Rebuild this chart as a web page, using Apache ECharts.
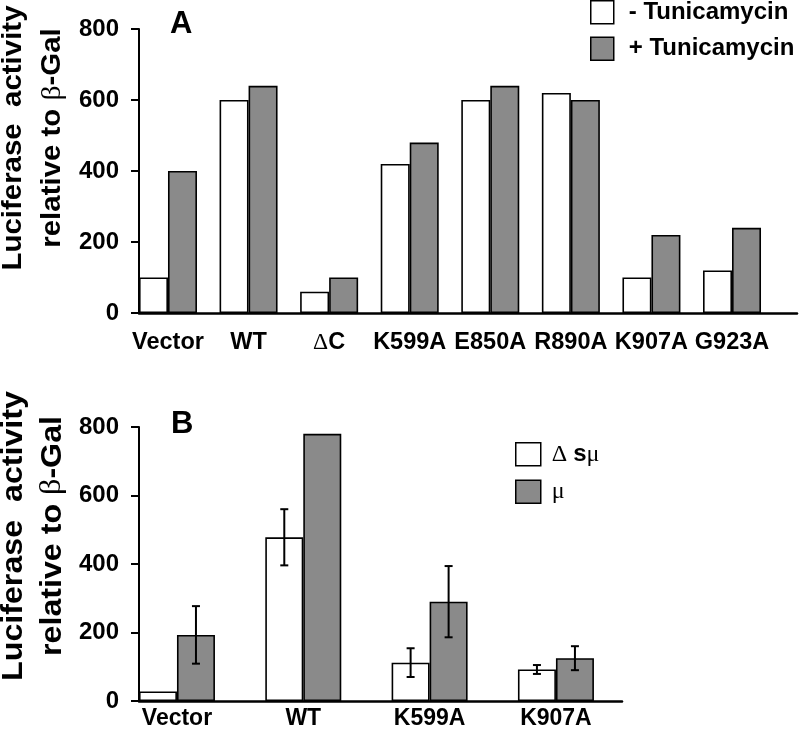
<!DOCTYPE html>
<html>
<head>
<meta charset="utf-8">
<script src="https://cdn.jsdelivr.net/npm/echarts@6/dist/echarts.min.js"></script>
<style>html,body{margin:0;padding:0;background:#fff}#c{width:800px;height:740px}</style>
</head>
<body>
<div id="c"></div>
<script>
// ---- data ----
const catsA = ['Vector', 'WT', 'ΔC', 'K599A', 'E850A', 'R890A', 'K907A', 'G923A'];
const minusTunicamycin = [100, 600, 60, 420, 600, 620, 100, 120];
const plusTunicamycin = [400, 640, 100, 480, 640, 600, 220, 240];
const catsB = ['Vector', 'WT', 'K599A', 'K907A'];
const deltaSmu = [28, 478, 112, 92];
const deltaSmuErr = [null, 82, 42, 13];
const mu = [193, 780, 290, 125];
const muErr = [84, null, 104, 35];
const yMin = 0, yMax = 800, yStep = 200;

// ---- styles ----
const SANS = "'Liberation Sans', Arial, Helvetica, sans-serif";
const SERIF = "'Liberation Serif', 'DejaVu Serif', serif";
const GREY = '#8a8a8a';
const barA = 29, barB = 38;

const chart = echarts.init(document.getElementById('c'), null, {renderer: 'canvas'});

function errData(vals, errs) {
  const out = [];
  vals.forEach((v, i) => { if (errs[i] != null) out.push([i, v, errs[i]]); });
  return out;
}
function errSeries(data, off) {
  return {
    type: 'custom', xAxisIndex: 2, yAxisIndex: 2, z: 5,
    encode: {x: 0, y: 1},
    data: data,
    renderItem: function (params, api) {
      const x = api.coord([api.value(0), 0])[0] + off;
      const v = api.value(1), e = api.value(2);
      const yH = api.coord([api.value(0), v + e])[1];
      const yL = api.coord([api.value(0), v - e])[1];
      const st = {stroke: '#000', lineWidth: 2};
      return {type: 'group', children: [
        {type: 'line', shape: {x1: x, y1: yH, x2: x, y2: yL}, style: st},
        {type: 'line', shape: {x1: x - 4, y1: yH, x2: x + 4, y2: yH}, style: st},
        {type: 'line', shape: {x1: x - 4, y1: yL, x2: x + 4, y2: yL}, style: st}
      ]};
    }
  };
}

const valAxisVisible = (gi) => ({
  type: 'value', gridIndex: gi, min: yMin, max: yMax, interval: yStep,
  axisLine: {show: true, lineStyle: {color: '#000', width: 2}},
  axisTick: {show: true, length: 8, lineStyle: {color: '#000', width: 2}},
  axisLabel: {color: '#000', fontFamily: SANS, fontWeight: 'bold', fontSize: 24, margin: 20},
  splitLine: {show: false}
});
const valAxisHidden = (gi) => ({type: 'value', gridIndex: gi, min: yMin, max: yMax, show: false, splitLine: {show: false}});
const baseAxis = (gi) => ({
  type: 'value', gridIndex: gi, min: 0, max: 1,
  axisLine: {show: true, onZero: false, lineStyle: {color: '#000', width: 2.5}},
  axisTick: {show: false}, axisLabel: {show: false}, splitLine: {show: false}
});
const catAxis = (gi, cats, margin, size) => ({
  type: 'category', gridIndex: gi, data: cats,
  axisLine: {show: false}, axisTick: {show: false},
  axisLabel: {
    color: '#000', fontFamily: SANS, fontWeight: 'bold', fontSize: size, margin: margin, interval: 0,
    formatter: (v) => v.indexOf('Δ') === 0 ? '{g|Δ}' + v.slice(1) : v,
    rich: {g: {fontFamily: SERIF, fontWeight: 'normal', fontSize: size, color: '#000'}}
  }
});

const yTitleRich = (size) => ({
  n: {font: 'bold ' + size + 'px ' + SANS, fill: '#000', lineHeight: 39},
  g: {font: 'normal ' + size + 'px ' + SERIF, fill: '#000', lineHeight: 39}
});
const yTitle = '{n|Luciferase  activity}\n{n|relative to }{g|β}{n|-Gal}';

chart.setOption({
  animation: false,
  backgroundColor: '#fff',
  title: [
    {text: 'A', left: 170, top: 9, padding: 0, textStyle: {fontFamily: SANS, fontWeight: 'bold', fontSize: 31, color: '#000'}},
    {text: 'B', left: 171, top: 409, padding: 0, textStyle: {fontFamily: SANS, fontWeight: 'bold', fontSize: 31, color: '#000'}}
  ],
  legend: [
    {
      data: ['- Tunicamycin', '+ Tunicamycin'], orient: 'vertical', left: 590, top: 0, padding: 0,
      itemWidth: 23, itemHeight: 23, itemGap: 12, icon: 'rect',
      itemStyle: {borderColor: '#000', borderWidth: 1.5},
      formatter: (n) => '{t|' + n + '}',
      textStyle: {rich: {t: {fontFamily: SANS, fontWeight: 'bold', fontSize: 24, color: '#000', padding: [0, 0, 0, 10]}}}
    },
    {
      data: ['Δ sμ', 'μ'], orient: 'vertical', left: 515, top: 442, padding: 0,
      itemWidth: 25, itemHeight: 23, itemGap: 13, icon: 'rect',
      itemStyle: {borderColor: '#000', borderWidth: 1.5},
      formatter: (n) => n === 'μ' ? '{p|}{g|μ}' : '{p|}{g|Δ }{s|s}{g|μ}',
      textStyle: {rich: {
        p: {width: 6},
        g: {fontFamily: SERIF, fontSize: 24, color: '#000'},
        s: {fontFamily: SANS, fontWeight: 'bold', fontSize: 24, color: '#000'}
      }}
    }
  ],
  grid: [
    {left: 127.7, top: 29, width: 644.6, height: 284},   // 0: bars A
    {left: 139, top: 29, width: 658, height: 284},       // 1: axes A
    {left: 113.8, top: 427, width: 505.3, height: 274},  // 2: bars B
    {left: 139, top: 427, width: 483, height: 274}       // 3: axes B
  ],
  xAxis: [catAxis(0, catsA, 18, 23.5), baseAxis(1), catAxis(2, catsB, 6, 23), baseAxis(3)],
  yAxis: [valAxisHidden(0), valAxisVisible(1), valAxisHidden(2), valAxisVisible(3)],
  graphic: [
    {type: 'text', x: 33, y: 138, rotation: Math.PI / 2, scaleX: 1.09,
     style: {text: yTitle, rich: yTitleRich(27), textAlign: 'center', textVerticalAlign: 'middle'}},
    {type: 'text', x: 33, y: 536, rotation: Math.PI / 2, scaleX: 1.11,
     style: {text: yTitle, rich: yTitleRich(29), textAlign: 'center', textVerticalAlign: 'middle'}}
  ],
  series: [
    {name: '- Tunicamycin', type: 'bar', xAxisIndex: 0, yAxisIndex: 0, data: minusTunicamycin, barWidth: barA, barGap: '0%',
     itemStyle: {color: '#fff', borderColor: '#000', borderWidth: 1.6}},
    {name: '+ Tunicamycin', type: 'bar', xAxisIndex: 0, yAxisIndex: 0, data: plusTunicamycin, barWidth: barA, barGap: '0%',
     itemStyle: {color: GREY, borderColor: '#000', borderWidth: 1.6}},
    {name: 'Δ sμ', type: 'bar', xAxisIndex: 2, yAxisIndex: 2, data: deltaSmu, barWidth: barB, barGap: '0%',
     itemStyle: {color: '#fff', borderColor: '#000', borderWidth: 1.6}},
    {name: 'μ', type: 'bar', xAxisIndex: 2, yAxisIndex: 2, data: mu, barWidth: barB, barGap: '0%',
     itemStyle: {color: GREY, borderColor: '#000', borderWidth: 1.6}},
    errSeries(errData(deltaSmu, deltaSmuErr), -barB / 2),
    errSeries(errData(mu, muErr), barB / 2)
  ]
});
</script>
</body>
</html>
